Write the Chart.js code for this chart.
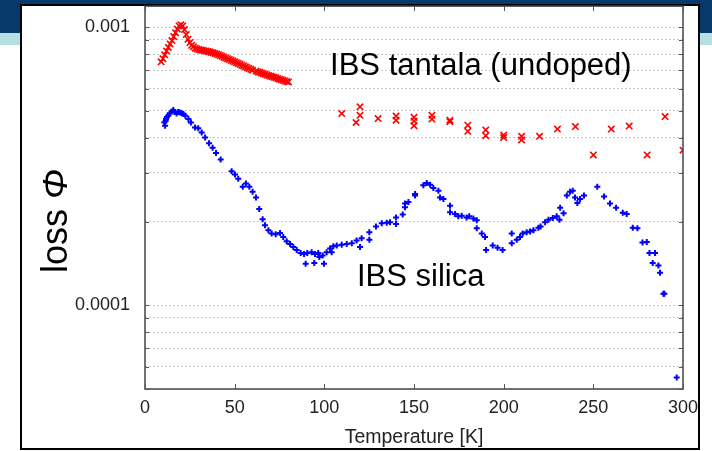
<!DOCTYPE html>
<html>
<head>
<meta charset="UTF-8">
<title>loss vs temperature</title>
<style>
  html, body { margin: 0; padding: 0; }
  body { width: 712px; height: 451px; position: relative; overflow: hidden; background: #fff; }
  .banner { position: absolute; left: 0; top: 0; width: 712px; height: 33px; background: #063a6b; }
  .strip { position: absolute; left: 0; top: 33px; width: 712px; height: 12px; background: #b7dfe2; }
  .frame { position: absolute; left: 20px; top: 4px; width: 680px; height: 446px; box-sizing: border-box; border: 2px solid #000; background: #fff; }
  #chart { position: absolute; left: 0; top: 0; }
</style>
<script src="https://cdn.jsdelivr.net/npm/chart.js"></script>
</head>
<body>
<div class="banner"></div>
<div class="strip"></div>
<div class="frame"></div>
<canvas id="chart" width="712" height="451"></canvas>
<script>
// IBS tantala (undoped): temperature [K] and loss
var tantalaT = [9, 10, 11, 12, 13, 14, 15, 16, 17, 18, 19, 20, 21, 22, 23, 24, 25, 26, 27, 28,
  29, 30, 31, 32, 33, 34, 35, 36, 37, 38, 39, 40, 41, 42, 43, 44, 45, 46, 47, 48,
  49, 50, 51, 52, 53, 54, 55, 56, 57, 58, 59, 60, 62, 63, 64, 65, 66, 67, 68, 69,
  70, 71, 72, 73, 74, 75, 76, 77, 78, 79, 80,
  109.7, 117.7, 119.9, 119.9, 130, 140, 140, 150, 150, 150, 160, 160, 170, 170, 180, 180,
  190, 190, 200, 200, 210, 210, 220, 230, 240, 250, 260, 270, 280, 290, 300];
var tantalaLoss = [7.5e-4, 7.7e-4, 7.95e-4, 8.2e-4, 8.45e-4, 8.7e-4, 8.95e-4, 9.25e-4, 9.55e-4, 9.85e-4,
  10.1e-4, 10.2e-4, 10.1e-4, 9.8e-4, 9.4e-4, 9.05e-4, 8.8e-4, 8.6e-4, 8.5e-4, 8.4e-4,
  8.35e-4, 8.3e-4, 8.28e-4, 8.25e-4, 8.22e-4, 8.2e-4, 8.18e-4, 8.15e-4, 8.1e-4, 8.08e-4,
  8.04e-4, 8.0e-4, 7.95e-4, 7.9e-4, 7.85e-4, 7.8e-4, 7.75e-4, 7.7e-4, 7.65e-4, 7.6e-4,
  7.55e-4, 7.5e-4, 7.45e-4, 7.4e-4, 7.35e-4, 7.3e-4, 7.25e-4, 7.2e-4, 7.15e-4, 7.1e-4,
  7.05e-4, 7.0e-4, 6.95e-4, 6.9e-4, 6.88e-4, 6.84e-4, 6.8e-4, 6.77e-4, 6.73e-4, 6.7e-4,
  6.66e-4, 6.63e-4, 6.6e-4, 6.57e-4, 6.53e-4, 6.5e-4, 6.47e-4, 6.44e-4, 6.4e-4, 6.37e-4, 6.35e-4,
  4.89e-4, 4.54e-4, 5.17e-4, 4.82e-4, 4.69e-4, 4.79e-4, 4.63e-4, 4.74e-4, 4.60e-4, 4.42e-4,
  4.82e-4, 4.67e-4, 4.63e-4, 4.57e-4, 4.44e-4, 4.22e-4, 4.27e-4, 4.07e-4, 4.09e-4, 4.01e-4,
  4.05e-4, 3.93e-4, 4.05e-4, 4.30e-4, 4.39e-4, 3.47e-4, 4.30e-4, 4.41e-4, 3.47e-4, 4.77e-4, 3.61e-4];

// IBS silica: temperature [K] and loss
var silicaT = [10.8, 11.2, 11.5, 11.7, 12.2, 13, 13.8, 14.9, 15.8, 16.5, 17.6, 18.5, 19.5, 20.5, 21.4,
  22.5, 24.2, 25.6, 27.9, 29.7, 31.6, 33.5, 35.7, 37.7, 39.6, 42.2, 48.3, 50.2, 52, 54.5,
  56.3, 58.2, 60, 61.9, 63.7, 65.6, 66.9, 68.8, 70.6, 72.9, 75.3, 77.1, 79, 80.9, 82.7,
  84.6, 86.8, 88.7, 89.6, 90.5, 92.9, 94.4, 94.8, 96.6, 97.2, 99.1, 99.8, 101.3, 103.2, 104.1,
  105, 106.9, 109.7, 112.5, 115.3, 118, 119.9, 120.8, 125.1, 125.1, 128.8, 132, 134.8, 136.6, 140,
  140, 143.7, 145, 145, 146.9, 150.6, 150.6, 155.2, 157.1, 159, 160.8, 163.6, 164.5, 166.4, 170.1,
  170.1, 172.9, 174.7, 176.6, 179.3, 180.8, 183.1, 185, 185, 187.8, 189.6, 190.2, 193.9, 196.6, 199.4,
  204.5, 204.5, 207.3, 209.1, 210.6, 212.8, 214.7, 216.6, 219.4, 220.6, 223.1, 225, 227.4, 229.6, 231.1,
  231.5, 233.4, 235.2, 237, 238.5, 239.8, 241.1, 242.6, 244.8, 252.2, 256, 259.3, 262.7, 266.4, 268.6,
  272, 274.6, 277.4, 279.8, 281.3, 283.1, 284.4, 286.3, 287.2, 289.1, 289.6, 296.5];
var silicaLoss = [4.54e-4, 4.42e-4, 4.60e-4, 4.67e-4, 4.75e-4, 4.80e-4, 4.90e-4, 4.97e-4, 5.03e-4, 4.95e-4,
  4.89e-4, 4.95e-4, 4.93e-4, 4.90e-4, 4.87e-4, 4.80e-4, 4.67e-4, 4.54e-4, 4.36e-4, 4.33e-4,
  4.18e-4, 4.01e-4, 3.82e-4, 3.68e-4, 3.53e-4, 3.34e-4, 3.03e-4, 2.95e-4, 2.85e-4, 2.67e-4,
  2.74e-4, 2.67e-4, 2.56e-4, 2.44e-4, 2.22e-4, 2.04e-4, 1.94e-4, 1.86e-4, 1.81e-4, 1.80e-4,
  1.82e-4, 1.76e-4, 1.70e-4, 1.66e-4, 1.62e-4, 1.58e-4, 1.54e-4, 1.53e-4, 1.41e-4, 1.54e-4,
  1.55e-4, 1.42e-4, 1.53e-4, 1.54e-4, 1.49e-4, 1.51e-4, 1.41e-4, 1.55e-4, 1.60e-4, 1.55e-4,
  1.63e-4, 1.64e-4, 1.65e-4, 1.66e-4, 1.67e-4, 1.71e-4, 1.62e-4, 1.74e-4, 1.83e-4, 1.72e-4,
  1.92e-4, 1.97e-4, 1.98e-4, 1.99e-4, 2.07e-4, 1.96e-4, 2.12e-4, 2.32e-4, 2.25e-4, 2.35e-4,
  2.51e-4, 2.48e-4, 2.70e-4, 2.75e-4, 2.71e-4, 2.64e-4, 2.58e-4, 2.44e-4, 2.41e-4, 2.28e-4,
  2.16e-4, 2.13e-4, 2.09e-4, 2.10e-4, 2.07e-4, 2.09e-4, 2.05e-4, 2.02e-4, 1.89e-4, 1.81e-4,
  1.76e-4, 1.58e-4, 1.64e-4, 1.61e-4, 1.58e-4, 1.67e-4, 1.81e-4, 1.72e-4, 1.76e-4, 1.81e-4,
  1.83e-4, 1.84e-4, 1.86e-4, 1.90e-4, 1.92e-4, 1.99e-4, 2.03e-4, 2.06e-4, 2.09e-4, 2.03e-4,
  2.24e-4, 2.14e-4, 2.48e-4, 2.56e-4, 2.58e-4, 2.44e-4, 2.33e-4, 2.41e-4, 2.48e-4, 2.67e-4,
  2.46e-4, 2.32e-4, 2.24e-4, 2.15e-4, 2.13e-4, 1.90e-4, 1.89e-4, 1.68e-4, 1.69e-4, 1.54e-4,
  1.42e-4, 1.54e-4, 1.39e-4, 1.31e-4, 1.10e-4, 1.10e-4, 0.55e-4];

// axis ticks
var xTicks = [0, 50, 100, 150, 200, 250, 300];
var yTickValues = [5e-5, 6e-5, 7e-5, 8e-5, 9e-5, 1e-4, 2e-4, 3e-4, 4e-4, 5e-4, 6e-4, 7e-4, 8e-4, 9e-4, 1e-3];
var yTickLabels = [1e-4, 1e-3];

var FONT = '"Liberation Sans", Arial, sans-serif';

function toPoints(xs, ys) {
  return xs.map(function (x, i) { return { x: x, y: ys[i] }; });
}

var extras = {
  id: 'extras',
  afterDraw: function (chart) {
    var ctx = chart.ctx;
    var a = chart.chartArea;
    var xs = chart.scales.x, ys = chart.scales.y;
    ctx.save();
    // plot frame
    ctx.strokeStyle = '#444';
    ctx.lineWidth = 1.5;
    ctx.strokeRect(a.left, a.top, a.right - a.left, a.bottom - a.top);
    // inward tick marks
    ctx.lineWidth = 1;
    ctx.strokeStyle = '#555';
    ctx.beginPath();
    xTicks.forEach(function (t) {
      var px = Math.round(xs.getPixelForValue(t)) + 0.5;
      ctx.moveTo(px, a.bottom); ctx.lineTo(px, a.bottom - 5);
      ctx.moveTo(px, a.top); ctx.lineTo(px, a.top + 5);
    });
    yTickValues.forEach(function (v) {
      var py = Math.round(ys.getPixelForValue(v)) + 0.5;
      ctx.moveTo(a.left, py); ctx.lineTo(a.left + 4, py);
      ctx.moveTo(a.right, py); ctx.lineTo(a.right - 4, py);
    });
    ctx.stroke();

    // y title: "loss Φ" with italic Φ
    ctx.fillStyle = '#000';
    ctx.translate(67, 221);
    ctx.rotate(-Math.PI / 2);
    ctx.textBaseline = 'alphabetic';
    ctx.font = '36px ' + FONT;
    var w1 = ctx.measureText('loss ').width;
    ctx.font = 'italic 36px ' + FONT;
    var w2 = ctx.measureText('\u03A6').width;
    var x0 = -(w1 + w2) / 2;
    ctx.font = '36px ' + FONT;
    ctx.textAlign = 'left';
    ctx.fillText('loss ', x0, 0);
    ctx.font = 'italic 36px ' + FONT;
    ctx.fillText('\u03A6', x0 + w1, 0);
    ctx.restore();

    // series labels
    ctx.save();
    ctx.fillStyle = '#000';
    ctx.font = '31px ' + FONT;
    ctx.textAlign = 'left';
    ctx.textBaseline = 'middle';
    ctx.fillText('IBS tantala (undoped)', xs.getPixelForValue(103.2), ys.getPixelForValue(7.25e-4));
    ctx.fillText('IBS silica', xs.getPixelForValue(118.2), ys.getPixelForValue(1.26e-4));
    ctx.restore();
  }
};

new Chart(document.getElementById('chart'), {
  type: 'scatter',
  data: {
    datasets: [
      {
        label: 'IBS tantala (undoped)',
        data: toPoints(tantalaT, tantalaLoss),
        pointStyle: 'crossRot',
        pointRadius: 4.5,
        borderColor: '#ff0000',
        backgroundColor: '#ff0000',
        pointBorderWidth: 1.6
      },
      {
        label: 'IBS silica',
        data: toPoints(silicaT, silicaLoss),
        pointStyle: 'cross',
        pointRadius: 3,
        borderColor: '#0000ff',
        backgroundColor: '#0000ff',
        pointBorderWidth: 2
      }
    ]
  },
  options: {
    responsive: false,
    animation: false,
    devicePixelRatio: 1,
    layout: { padding: { left: 0, top: 5, right: 29, bottom: 0 } },
    plugins: { legend: { display: false }, tooltip: { enabled: false } },
    scales: {
      x: {
        type: 'linear',
        min: 0,
        max: 300,
        afterFit: function (s) { s.height = 62; s.paddingLeft = 0; s.paddingRight = 0; },
        afterBuildTicks: function (s) { s.ticks = xTicks.map(function (v) { return { value: v }; }); },
        grid: { display: false, drawTicks: false },
        border: { display: false },
        ticks: { padding: 8, color: '#222', font: { family: FONT, size: 18 } },
        title: { display: true, text: 'Temperature [K]', color: '#222', font: { family: FONT, size: 19.5 }, padding: { top: 0, bottom: 2 } }
      },
      y: {
        type: 'logarithmic',
        min: 5e-5,
        max: 1.19e-3,
        afterFit: function (s) { s.width = 145; s.paddingTop = 0; s.paddingBottom = 0; },
        afterBuildTicks: function (s) { s.ticks = yTickValues.map(function (v) { return { value: v }; }); },
        grid: { color: '#c8c8c8', lineWidth: 1, drawTicks: false },
        border: { display: false, dash: [2, 2] },
        ticks: {
          autoSkip: false,
          padding: 15,
          color: '#222',
          font: { family: FONT, size: 18 },
          callback: function (v) { return yTickLabels.indexOf(v) >= 0 ? String(v) : ''; }
        }
      }
    }
  },
  plugins: [extras]
});
</script>
</body>
</html>
